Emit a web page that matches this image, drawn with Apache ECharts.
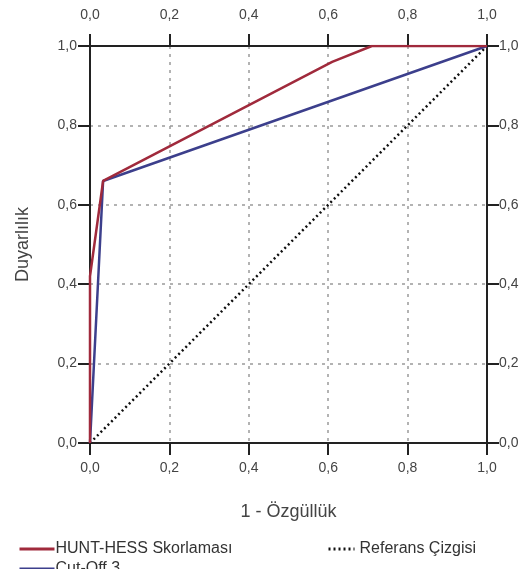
<!DOCTYPE html>
<html>
<head>
<meta charset="utf-8">
<script src="https://cdn.jsdelivr.net/npm/echarts@6/dist/echarts.min.js"></script>
<style>
html,body{margin:0;padding:0;background:#fff;}
#c{width:532px;height:569px;}
</style>
</head>
<body>
<div id="c"></div>
<script>
// Data
const huntX = [0, 0, 0.033, 0.61, 0.71, 1];
const huntY = [0, 0.42, 0.66, 0.96, 1, 1];
const cutX = [0, 0.033, 1];
const cutY = [0, 0.66, 1];
const refX = [0, 1];
const refY = [0, 1];
const tickValues = [0, 0.2, 0.4, 0.6, 0.8, 1.0];
const tickLabels = ['0,0', '0,2', '0,4', '0,6', '0,8', '1,0'];

const seriesNames = ['HUNT-HESS Skorlaması', 'Cut-Off 3', 'Referans Çizgisi'];

function pairs(xs, ys) { return xs.map((x, i) => [x, ys[i]]); }
function fmt(v) {
  const i = tickValues.findIndex(t => Math.abs(t - v) < 1e-9);
  return i >= 0 ? tickLabels[i] : '';
}

const FONT = 'Liberation Sans, Arial, sans-serif';
const labelStyle = { color: '#444', fontSize: 14, fontFamily: FONT, formatter: fmt };
const axisLine = { show: true, onZero: false, lineStyle: { color: '#222', width: 2 } };
const axisTick = { show: true, inside: false, length: 12, lineStyle: { color: '#222', width: 2 } };
const splitLine = { show: true, lineStyle: { color: '#9a9a9a', width: 1.5, type: [3, 5] } };
const legendText = { color: '#333', fontSize: 16, fontFamily: FONT };

const chart = echarts.init(document.getElementById('c'));
chart.setOption({
  backgroundColor: '#fff',
  animation: false,
  grid: { left: 90, right: 45, top: 46, bottom: 126 },
  xAxis: [
    { type: 'value', position: 'bottom', min: 0, max: 1, interval: 0.2, z: 3,
      axisLine, axisTick, splitLine,
      axisLabel: Object.assign({}, labelStyle, { margin: 18 }),
      name: '1 - Özgüllük', nameLocation: 'middle', nameGap: 60,
      nameTextStyle: { color: '#444', fontSize: 18, fontFamily: FONT } },
    { type: 'value', position: 'top', min: 0, max: 1, interval: 0.2, z: 3,
      axisLine, axisTick, splitLine: { show: false },
      axisLabel: Object.assign({}, labelStyle, { margin: 24 }) }
  ],
  yAxis: [
    { type: 'value', position: 'left', min: 0, max: 1, interval: 0.2, z: 3,
      axisLine, axisTick, splitLine,
      axisLabel: Object.assign({}, labelStyle, { margin: 13 }),
      name: 'Duyarlılık', nameLocation: 'middle', nameGap: 58,
      nameTextStyle: { color: '#444', fontSize: 18, fontFamily: FONT } },
    { type: 'value', position: 'right', min: 0, max: 1, interval: 0.2, z: 3,
      axisLine, axisTick, splitLine: { show: false },
      axisLabel: Object.assign({}, labelStyle, { margin: 12 }) }
  ],
  legend: [
    { data: [seriesNames[0]], left: 13, top: 536, itemWidth: 35, itemHeight: 12,
      itemStyle: { opacity: 0 }, lineStyle: { width: 3 },
      textStyle: Object.assign({ padding: [0, 0, 0, -4] }, legendText) },
    { data: [seriesNames[2]], left: 322, top: 536, itemWidth: 26, itemHeight: 12,
      itemStyle: { opacity: 0 }, lineStyle: { width: 3 },
      textStyle: legendText },
    { data: [seriesNames[1]], left: 13, top: 556, itemWidth: 35, itemHeight: 12,
      itemStyle: { opacity: 0 }, lineStyle: { width: 3 },
      textStyle: Object.assign({ padding: [0, 0, 0, -4] }, legendText) }
  ],
  series: [
    { name: seriesNames[2], type: 'line', data: pairs(refX, refY), symbol: 'none',
      lineStyle: { color: '#111', width: 2.5, type: [2, 3] }, itemStyle: { color: '#111' } },
    { name: seriesNames[1], type: 'line', data: pairs(cutX, cutY), symbol: 'none',
      lineStyle: { color: '#3c3f8c', width: 2.5 }, itemStyle: { color: '#3c3f8c' } },
    { name: seriesNames[0], type: 'line', data: pairs(huntX, huntY), symbol: 'none',
      lineStyle: { color: '#a02a3c', width: 2.5 }, itemStyle: { color: '#a02a3c' } }
  ]
});
</script>
</body>
</html>
